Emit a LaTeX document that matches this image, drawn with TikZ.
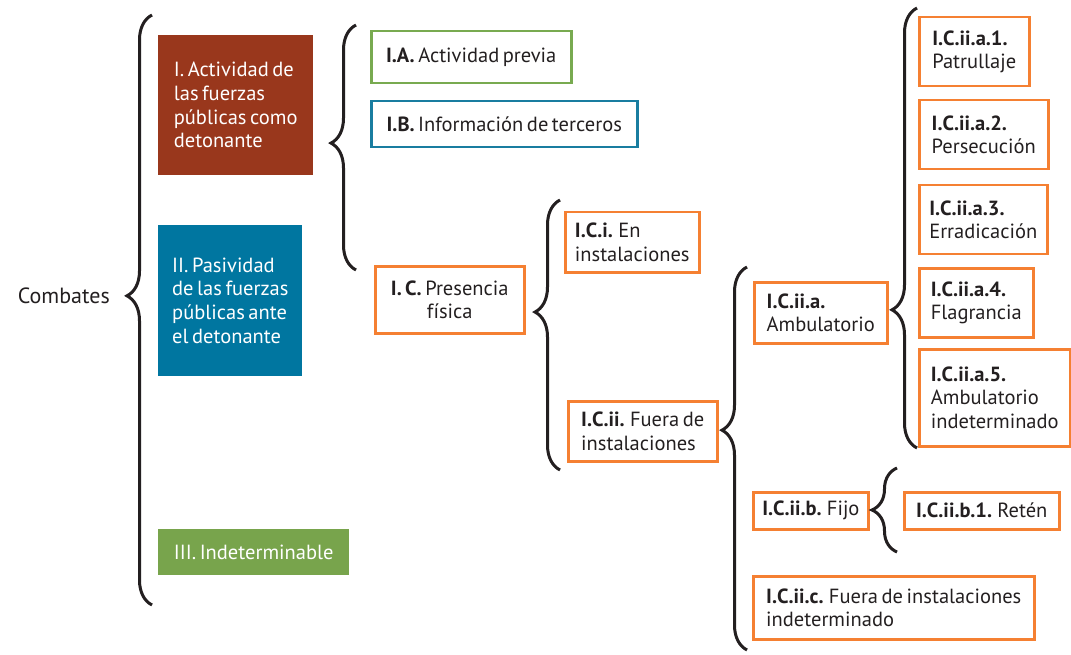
\documentclass[tikz,border=0pt]{standalone}
\usepackage{fontspec}
\setmainfont{PT Sans}[WordSpace=0.65]
\usetikzlibrary{decorations.pathreplacing}

\definecolor{ladrillo}{RGB}{153,55,28}
\definecolor{petroleo}{RGB}{0,118,160}
\definecolor{hoja}{RGB}{120,164,76}
\definecolor{naranja}{RGB}{245,128,50}
\definecolor{verde}{RGB}{120,170,80}
\definecolor{azul}{RGB}{25,125,160}
\definecolor{texto}{RGB}{35,31,32}

\begin{document}
\begin{tikzpicture}[
    x=1pt,y=-1pt,
    every node/.style={font=\fontsize{20.5}{23.7}\selectfont},
    bloque/.style={anchor=north west,align=left,text=white,inner xsep=14pt},
    caja/.style={anchor=north west,draw=naranja,line width=2.5pt,align=left,text=texto,inner xsep=9pt},
    llave/.style={decorate,decoration={brace,amplitude=25pt,aspect=#1},line width=3pt,color=texto}
]
\useasboundingbox (0,0) rectangle (1071,655);

% Raiz
\node[anchor=east,inner sep=0pt,text=texto,font=\fontsize{22}{26}\selectfont] (combates) at (110,296) {Combates};

% Nivel I, II, III
\node[bloque,fill=ladrillo,minimum width=155pt,minimum height=140pt] (act) at (158,35) {I. Actividad de\\las fuerzas\\públicas como\\detonante};
\node[bloque,fill=petroleo,minimum width=144pt,minimum height=151pt] (pas) at (158,225) {II. Pasividad\\de las fuerzas\\públicas ante\\el detonante};
\node[bloque,fill=hoja,minimum width=191pt,minimum height=46pt] (ind) at (158,529) {III. Indeterminable};

% Nivel I.A, I.B, I.C
\node[caja,draw=verde,minimum width=200pt,minimum height=52pt] (ia) at (370,30) {\textbf{I.A.} Actividad previa};
\node[caja,draw=azul,minimum width=266pt,minimum height=46pt] (ib) at (370,100) {\textbf{I.B.} Información de terceros};
\node[caja,align=center,minimum width=149pt,minimum height=67pt] (ic) at (374,265) {\textbf{I. C.} Presencia\\física};

% Nivel I.C.i, I.C.ii
\node[caja,minimum width=134pt,minimum height=60pt] (ici) at (564,211) {\textbf{I.C.i.} En\\instalaciones};
\node[caja,minimum width=149pt,minimum height=60pt] (icii) at (567,400) {\textbf{I.C.ii.} Fuera de\\instalaciones};

% Nivel I.C.ii.a, b, c
\node[caja,minimum width=133pt,minimum height=61pt] (iciia) at (753,281) {\textbf{I.C.ii.a.}\\Ambulatorio};
\node[caja,minimum width=115pt,minimum height=37pt] (iciib) at (752,491) {\textbf{I.C.ii.b.} Fijo};
\node[caja,minimum width=281pt,minimum height=63pt] (iciic) at (752,575) {\textbf{I.C.ii.c.} Fuera de instalaciones\\indeterminado};

% Hojas
\node[caja,minimum width=110pt,minimum height=69pt] (a1) at (918,16) {\textbf{I.C.ii.a.1.}\\Patrullaje};
\node[caja,minimum width=129pt,minimum height=69pt] (a2) at (918,99) {\textbf{I.C.ii.a.2.}\\Persecución};
\node[caja,minimum width=128pt,minimum height=69pt] (a3) at (918,184) {\textbf{I.C.ii.a.3.}\\Erradicación};
\node[caja,minimum width=114pt,minimum height=69pt] (a4) at (918,267) {\textbf{I.C.ii.a.4.}\\Flagrancia};
\node[caja,minimum width=151pt,minimum height=97pt] (a5) at (918,348) {\textbf{I.C.ii.a.5.}\\Ambulatorio\\indeterminado};
\node[caja,minimum width=155pt,minimum height=37pt] (b1) at (903,491) {\textbf{I.C.ii.b.1.} Retén};

% Llaves
\coordinate (l1a) at (152,605);
\coordinate (l1b) at (152,15);
\coordinate (l2a) at (356,270);
\coordinate (l2b) at (356,25);
\coordinate (l3a) at (560,470);
\coordinate (l3b) at (560,200);
\coordinate (l4a) at (747,650);
\coordinate (l4b) at (747,267);
\coordinate (l5a) at (917,448);
\coordinate (l5b) at (917,8);
\coordinate (l6a) at (897,552);
\coordinate (l6b) at (897,468);

\draw[llave=0.524] (l1a) -- (l1b);
\draw[llave=0.518] (l2a) -- (l2b);
\draw[llave=0.585] (l3a) -- (l3b);
\draw[llave=0.574] (l4a) -- (l4b);
\draw[llave=0.314] (l5a) -- (l5b);
\draw[llave=0.5] (l6a) -- (l6b);

\end{tikzpicture}
\end{document}
